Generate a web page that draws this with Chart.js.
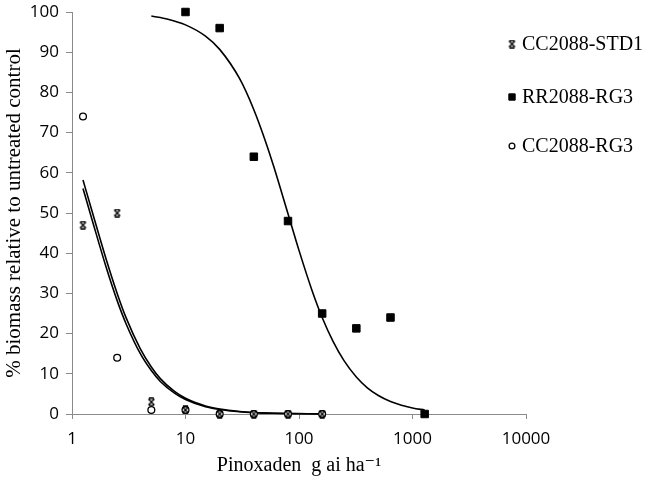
<!DOCTYPE html>
<html>
<head>
<meta charset="utf-8">
<script src="https://cdn.jsdelivr.net/npm/chart.js@4/dist/chart.umd.min.js"></script>
<style>
  html, body { margin: 0; padding: 0; background: #fff; }
  #wrap { width: 652px; height: 482px; }
</style>
</head>
<body>
<div id="wrap"><canvas id="c" width="652" height="482"></canvas></div>
<script>
// ---- data ----
const seriesNames = ['CC2088-STD1', 'RR2088-RG3', 'CC2088-RG3'];
const ccDoses = [1.25, 2.5, 5, 10, 20, 40, 80, 160];
const std1Values = [47, 50, 3, 1, 0, 0, 0, 0];
const ccRg3Values = [74, 14, 1, 1, 0, 0, 0, 0];
const rrDoses = [10, 20, 40, 80, 160, 320, 640, 1280];
const rrValues = [100, 96, 64, 48, 25, 21.3, 24, 0];

// fitted curves
const lowCurveX = [1.25, 1.5, 2, 2.5, 3, 4, 5, 6, 8, 10, 15, 20, 30, 40, 60, 80, 120, 160];
const std1Curve = [58.2, 50.5, 38.5, 30.0, 23.9, 16.2, 11.7, 8.8, 5.6, 3.9, 2.0, 1.23, 0.62, 0.38, 0.19, 0.12, 0.06, 0.04];
const ccRg3Curve = [56.1, 48.4, 36.5, 28.2, 22.4, 15.0, 10.8, 8.1, 5.2, 3.6, 1.8, 1.13, 0.57, 0.35, 0.18, 0.11, 0.05, 0.03];
const rrCurveX = [5, 7, 10, 15, 20, 30, 40, 50, 60, 80, 100, 130, 160, 200, 250, 320, 400, 500, 640, 800, 1000, 1280];
const rrCurve = [99.0, 98.2, 96.8, 94.0, 90.7, 83.4, 75.7, 68.3, 61.5, 49.8, 40.7, 30.8, 24.0, 18.0, 13.2, 9.2, 6.5, 4.6, 3.1, 2.2, 1.5, 1.0];

const xTickValues = [1, 10, 100, 1000, 10000];
const xTickLabels = ['1', '10', '100', '1000', '10000'];
const yTickStep = 10;

const xTitle = 'Pinoxaden  g ai ha\u207B\u00B9';
const yTitle = '% biomass relative to untreated control';

// ---- helpers ----
const pts = (xs, ys) => xs.map((x, i) => ({ x: x, y: ys[i] }));

function starMarker() {
  const c = document.createElement('canvas');
  c.width = 9; c.height = 9;
  const g = c.getContext('2d');
  g.strokeStyle = '#000';
  g.lineWidth = 1.4;
  g.beginPath();
  g.moveTo(1.5, 1.5); g.lineTo(7.5, 7.5);
  g.moveTo(7.5, 1.5); g.lineTo(1.5, 7.5);
  g.moveTo(2, 1); g.lineTo(7, 1);
  g.moveTo(2, 8); g.lineTo(7, 8);
  g.stroke();
  return c;
}
const starImg = starMarker();

const markerStyles = [
  { pointStyle: starImg, pointRadius: 5, backgroundColor: '#000', borderColor: '#000', borderWidth: 1 },
  { pointStyle: 'rect', pointRadius: 5.3, backgroundColor: '#000', borderColor: '#000', borderWidth: 1 },
  { pointStyle: 'circle', pointRadius: 3.4, backgroundColor: '#fff', borderColor: '#000', borderWidth: 1.3 }
];

const axisColor = '#8a8a8a';
const tickFont = { family: '"Open Sans", "DejaVu Sans", sans-serif', size: 17 };
const serif = '"Liberation Serif", "DejaVu Serif", serif';

const legendPlugin = {
  id: 'manualLegend',
  afterDraw(chart) {
    const ctx = chart.ctx;
    const rows = [44, 97, 146];
    ctx.save();
    ctx.font = '20px ' + serif;
    ctx.textBaseline = 'middle';
    ctx.textAlign = 'left';
    seriesNames.forEach((name, i) => {
      const st = markerStyles[i];
      ctx.fillStyle = st.backgroundColor;
      ctx.strokeStyle = st.borderColor;
      ctx.lineWidth = st.borderWidth;
      Chart.helpers.drawPoint(ctx, { pointStyle: st.pointStyle, radius: st.pointRadius * 0.85, borderWidth: st.borderWidth, rotation: 0 }, 512, rows[i]);
      ctx.fillStyle = '#000';
      ctx.fillText(name, 522, rows[i] + 1);
    });
    ctx.restore();
  }
};

const curveStyle = { showLine: true, pointRadius: 0, pointHoverRadius: 0, borderColor: '#000', borderWidth: 1.6, cubicInterpolationMode: 'monotone', fill: false, clip: false };

new Chart(document.getElementById('c'), {
  type: 'scatter',
  data: {
    datasets: [
      Object.assign({ label: seriesNames[0] + ' fit', data: pts(lowCurveX, std1Curve), order: 5 }, curveStyle),
      Object.assign({ label: seriesNames[2] + ' fit', data: pts(lowCurveX, ccRg3Curve), order: 5 }, curveStyle),
      Object.assign({ label: seriesNames[1] + ' fit', data: pts(rrCurveX, rrCurve), order: 5 }, curveStyle),
      Object.assign({ label: seriesNames[0], data: pts(ccDoses, std1Values), showLine: false, clip: false, order: 2 }, markerStyles[0]),
      Object.assign({ label: seriesNames[1], data: pts(rrDoses, rrValues), showLine: false, clip: false, order: 1 }, markerStyles[1]),
      Object.assign({ label: seriesNames[2], data: pts(ccDoses, ccRg3Values), showLine: false, clip: false, order: 3 }, markerStyles[2])
    ]
  },
  options: {
    responsive: false,
    animation: false,
    devicePixelRatio: 1,
    layout: { padding: { top: 12, right: 126, bottom: 0, left: 0 } },
    plugins: { legend: { display: false }, tooltip: { enabled: false } },
    scales: {
      x: {
        type: 'logarithmic',
        min: 1, max: 10000,
        afterBuildTicks(scale) { scale.ticks = xTickValues.map(v => ({ value: v })); },
        afterFit(scale) { scale.height = 68; scale.paddingLeft = 0; scale.paddingRight = 0; },
        ticks: {
          autoSkip: false, maxRotation: 0, padding: 10, color: '#000', font: tickFont,
          callback(value) { const i = xTickValues.indexOf(value); return i >= 0 ? xTickLabels[i] : ''; }
        },
        grid: { display: true, drawOnChartArea: false, drawTicks: true, tickLength: 5, color: axisColor },
        border: { display: true, color: axisColor, width: 1 },
        title: { display: true, text: xTitle, color: '#000', font: { family: serif, size: 20, lineHeight: 1 }, padding: { top: 0, bottom: 6 } }
      },
      y: {
        min: 0, max: 100,
        afterFit(scale) { scale.width = 72; scale.paddingTop = 0; scale.paddingBottom = 0; },
        ticks: { stepSize: yTickStep, padding: 7, color: '#000', font: tickFont },
        grid: { display: true, drawOnChartArea: false, drawTicks: true, tickLength: 6, color: axisColor },
        border: { display: true, color: axisColor, width: 1 },
        title: { display: true, text: yTitle, color: '#000', font: { family: serif, size: 21, lineHeight: 1 }, padding: { top: 4, bottom: 0 } }
      }
    }
  },
  plugins: [legendPlugin]
});
</script>
</body>
</html>
